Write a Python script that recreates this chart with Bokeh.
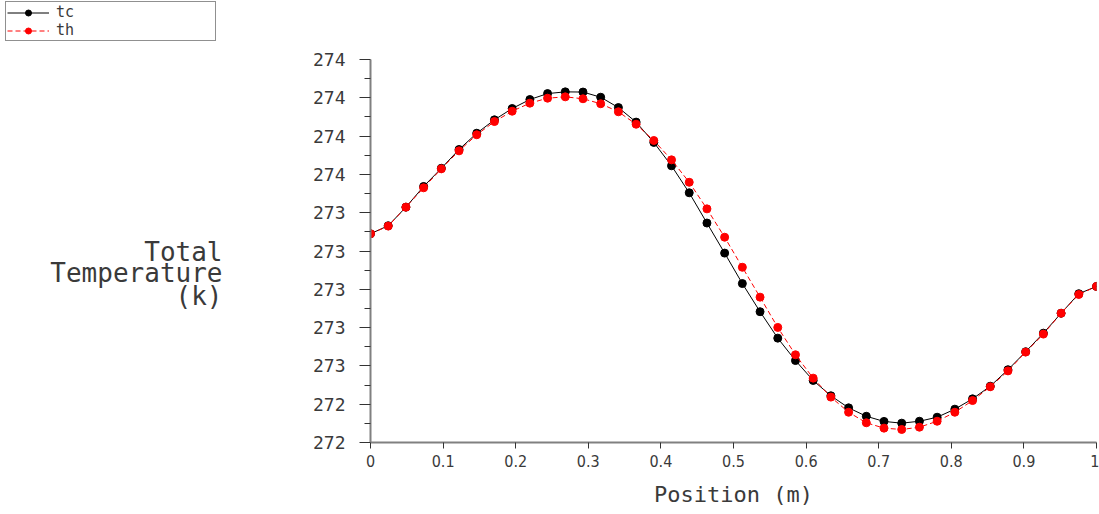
from bokeh.plotting import figure
from bokeh.layouts import row, column
from bokeh.models import (Range1d, FixedTicker, Label, Legend, LegendItem,
                          NumeralTickFormatter)
from bokeh.embed import file_html
from bokeh.resources import INLINE

# ---- data ----
position = [i / 41 for i in range(42)]
tc = [273.290, 273.332, 273.429, 273.537, 273.632, 273.730, 273.815, 273.885,
      273.944, 273.991, 274.022, 274.031, 274.030, 274.003, 273.949, 273.873,
      273.767, 273.645, 273.504, 273.346, 273.189, 273.030, 272.883, 272.745,
      272.628, 272.524, 272.444, 272.381, 272.337, 272.310, 272.301, 272.311,
      272.332, 272.374, 272.428, 272.494, 272.580, 272.674, 272.771, 272.875,
      272.977, 273.015]
th = [273.290, 273.330, 273.429, 273.530, 273.629, 273.723, 273.807, 273.876,
      273.930, 273.972, 273.998, 274.005, 273.995, 273.969, 273.927, 273.862,
      273.777, 273.676, 273.559, 273.420, 273.272, 273.115, 272.959, 272.801,
      272.658, 272.536, 272.437, 272.358, 272.303, 272.275, 272.268, 272.280,
      272.311, 272.358, 272.419, 272.491, 272.574, 272.672, 272.766, 272.875,
      272.973, 273.015]
series_names = ["tc", "th"]

x_ticks = [0.0, 0.1, 0.2, 0.3, 0.4, 0.5, 0.6, 0.7, 0.8, 0.9, 1.0]
x_tick_labels = ["0", "0.1", "0.2", "0.3", "0.4", "0.5", "0.6", "0.7", "0.8", "0.9", "1"]
y_ticks = [272.2, 272.4, 272.6, 272.8, 273.0, 273.2, 273.4, 273.6, 273.8, 274.0, 274.2]
y_tick_labels = ["272", "272", "273", "273", "273", "273", "273", "274", "274", "274", "274"]
y_minor = [272.3, 272.5, 272.7, 272.9, 273.1, 273.3, 273.5, 273.7, 273.9, 274.1]

x_title = "Position (m)"
y_title_lines = ["Total", "Temperature", "(k)"]

MONO = "DejaVu Sans Mono"
NARROW = "'Liberation Sans Narrow', 'DejaVu Sans Condensed', sans-serif"
TXT = "#3a3a3a"
TOP_H = 45          # strip holding the legend
H = 467             # height of the plot row
LEFT_W = 309        # width of the y-title column
FRAME_TOP = 59 - TOP_H
FRAME_BOTTOM_PAGE = 442


def style_series(fig):
    a = fig.line(position, tc, line_color="black", line_width=1)
    b = fig.scatter(position, tc, size=8, fill_color="black", line_color="black")
    c = fig.line(position, th, line_color="#ff0000", line_width=1, line_dash="5 3")
    d = fig.scatter(position, th, size=8, fill_color="#ff0000", line_color="#ff0000")
    return a, b, c, d


def blank(fig):
    fig.outline_line_color = None
    fig.grid.visible = False


# ---- main plot ----
p = figure(width=1099 - LEFT_W, height=H, output_backend="svg", toolbar_location=None,
           x_range=Range1d(0, 1), y_range=Range1d(272.2, 274.2),
           min_border_left=60, min_border_right=3, min_border_top=FRAME_TOP,
           min_border_bottom=TOP_H + H - FRAME_BOTTOM_PAGE)
blank(p)
style_series(p)

xa = p.xaxis[0]
xa.ticker = FixedTicker(ticks=x_ticks)
xa.major_label_overrides = {t: l for t, l in zip(x_ticks, x_tick_labels)}
xa.axis_line_color = "#808080"
xa.axis_line_width = 2
xa.major_tick_in = 0
xa.major_tick_out = 6
xa.major_tick_line_color = "#333333"
xa.minor_tick_line_color = None
xa.major_label_text_font = NARROW
xa.major_label_text_font_size = "16px"
xa.major_label_text_color = TXT
xa.major_label_standoff = 6
xa.axis_label = x_title
xa.axis_label_text_font = MONO
xa.axis_label_text_font_size = "22px"
xa.axis_label_text_font_style = "normal"
xa.axis_label_text_color = TXT
xa.axis_label_standoff = 12

ya = p.yaxis[0]
ya.ticker = FixedTicker(ticks=y_ticks, minor_ticks=y_minor)
ya.formatter = NumeralTickFormatter(format="0")
ya.major_label_overrides = {t: l for t, l in zip(y_ticks, y_tick_labels)}
ya.axis_line_color = "#808080"
ya.axis_line_width = 2
ya.major_tick_in = 0
ya.major_tick_out = 11
ya.minor_tick_in = 0
ya.minor_tick_out = 6
ya.major_tick_line_color = "#333333"
ya.minor_tick_line_color = "#333333"
ya.major_label_text_font = MONO
ya.major_label_text_font_size = "18px"
ya.major_label_text_color = TXT
ya.major_label_standoff = 14

# ---- left column: y title (frame is aligned with the main frame) ----
lf = figure(width=LEFT_W, height=H, output_backend="svg", toolbar_location=None,
            x_axis_type=None, y_axis_type=None,
            x_range=Range1d(0, 1), y_range=Range1d(0, 1),
            min_border_left=0, min_border_right=0, min_border_top=FRAME_TOP,
            min_border_bottom=TOP_H + H - FRAME_BOTTOM_PAGE)
blank(lf)
for txt, yc in zip(y_title_lines, [251, 272, 295]):
    lf.add_layout(Label(x=222, y=FRAME_BOTTOM_PAGE - yc, x_units="screen", y_units="screen",
                        text=txt, text_align="right", text_baseline="middle",
                        text_font=MONO, text_font_size="26px", text_color=TXT))

# ---- top strip: legend ----
tf = figure(width=1099, height=TOP_H, output_backend="svg", toolbar_location=None,
            x_axis_type=None, y_axis_type=None,
            x_range=Range1d(5, 6), y_range=Range1d(0, 1),
            min_border_left=0, min_border_right=0, min_border_top=0, min_border_bottom=0)
blank(tf)
a, b, c, d = style_series(tf)
legend = Legend(items=[LegendItem(label=series_names[0], renderers=[a, b]),
                       LegendItem(label=series_names[1], renderers=[c, d])],
                location=(5, 4), margin=0, padding=1, spacing=0,
                glyph_width=42, glyph_height=15, label_height=15, label_width=158,
                label_standoff=7, border_line_color="#222222", border_line_width=1,
                label_text_font=MONO, label_text_font_size="15px",
                label_text_color=TXT, background_fill_alpha=1)
tf.add_layout(legend, "center")

layout = column(tf, row(lf, p, spacing=0), spacing=0)
open("out.html", "w").write(file_html(layout, INLINE))
